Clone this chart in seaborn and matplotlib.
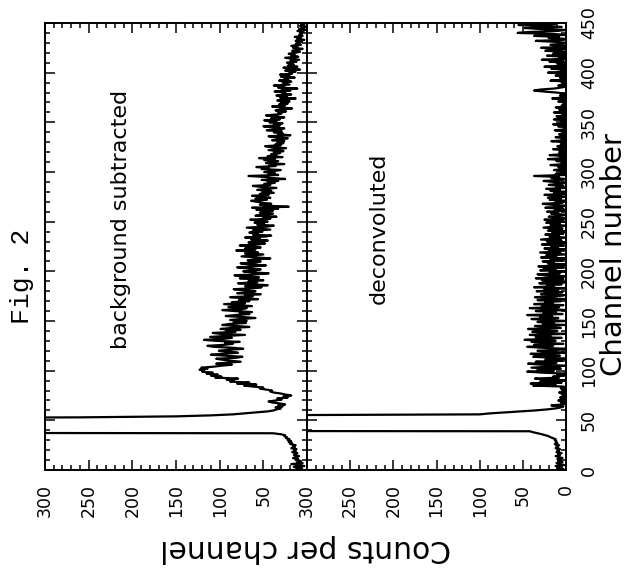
import matplotlib
matplotlib.use("Agg")
import matplotlib.pyplot as plt
import seaborn as sns
import pandas as pd
from matplotlib.ticker import MultipleLocator, FixedLocator

# ---------------- data ----------------
channels = list(range(450))

bg_subtracted = [
    4, 12, 6, 15, 3, 9, 18, 5, 11, 7,
    13, 10, 16, 12, 9, 15, 14, 11, 17, 13,
    15, 12, 18, 14, 16, 13, 19, 17, 21, 18,
    22, 20, 24, 23, 26, 25, 30, 39, 1200, 2400,
    3000, 3300, 3400, 3350, 3200, 3000, 2700, 2300, 1900, 1500,
    1100, 800, 600, 260, 150, 110, 85, 72, 58, 45,
    38, 35, 30, 36, 28, 33, 25, 31, 40, 44,
    36, 29, 34, 22, 27, 18, 25, 30, 38, 42,
    40, 47, 54, 50, 62, 72, 58, 80, 66, 88,
    84, 92, 79, 105, 98, 110, 102, 115, 108, 120,
    118, 123, 114, 121, 107, 98, 86, 104, 92, 76,
    86, 97, 104, 81, 74, 93, 110, 98, 79, 88,
    101, 90, 73, 84, 107, 114, 95, 85, 94, 77,
    104, 118, 96, 86, 111, 92, 71, 99, 108, 82,
    93, 76, 99, 86, 66, 81, 97, 89, 70, 84,
    69, 88, 76, 59, 74, 93, 82, 66, 77, 63,
    83, 97, 74, 69, 90, 63, 79, 95, 71, 86,
    66, 78, 56, 73, 88, 62, 71, 53, 80, 65,
    59, 74, 84, 61, 52, 71, 45, 64, 79, 57,
    67, 50, 61, 77, 55, 70, 83, 57, 44, 63,
    73, 59, 53, 69, 80, 61, 47, 66, 76, 58,
    53, 68, 61, 42, 57, 75, 63, 50, 71, 56,
    66, 81, 59, 71, 53, 62, 77, 57, 48, 67,
    59, 45, 64, 54, 71, 48, 41, 62, 56, 66,
    51, 62, 42, 55, 69, 46, 38, 57, 49, 60,
    45, 56, 65, 42, 50, 35, 59, 48, 39, 54,
    47, 39, 58, 33, 63, 21, 44, 54, 41, 51,
    57, 64, 46, 59, 42, 51, 63, 44, 54, 38,
    51, 41, 57, 46, 35, 53, 62, 42, 49, 37,
    45, 33, 52, 25, 41, 48, 67, 33, 44, 37,
    49, 38, 30, 52, 44, 58, 36, 43, 26, 47,
    42, 33, 49, 37, 55, 28, 45, 35, 41, 31,
    38, 27, 44, 34, 24, 41, 48, 30, 36, 27,
    34, 26, 40, 30, 22, 37, 44, 19, 33, 28,
    38, 29, 46, 34, 26, 41, 50, 31, 38, 28,
    43, 35, 49, 31, 41, 26, 38, 47, 33, 29,
    33, 24, 36, 28, 17, 31, 40, 25, 32, 22,
    30, 20, 34, 26, 13, 31, 23, 35, 18, 28,
    25, 37, 19, 29, 11, 33, 26, 38, 20, 24,
    28, 18, 32, 22, 26, 14, 30, 20, 31, 17,
    20, 13, 25, 8, 19, 27, 11, 22, 15, 18,
    23, 12, 19, 9, 17, 25, 10, 18, 14, 21,
    14, 8, 17, 10, 5, 16, 11, 18, 7, 13,
    10, 6, 13, 3, 11, 7, 14, 5, 9, 6,
    8, 4, 11, 2, 9, 5, 1, 8, 3, 7,
]

deconvoluted = [
    8, 3, 10, 5, 12, 2, 7, 11, 4, 9,
    6, 10, 4, 8, 12, 7, 9, 5, 11, 8,
    10, 7, 12, 9, 11, 8, 13, 10, 12, 11,
    13, 12, 15, 18, 20, 24, 28, 33, 38, 42,
    1500, 2800, 3400, 3700, 3800, 3750, 3600, 3400, 3100, 2700,
    2300, 1900, 1500, 1100, 700, 400, 100, 88, 70, 52,
    35, 22, 12, 6, 3, 17, 4, 0, 6, 2,
    9, 0, 3, 7, 1, 0, 5, 2, 8, 0,
    4, 1, 6, 0, 3, 38, 12, 41, 5, 30,
    0, 22, 36, 8, 15, 2, 10, 0, 27, 45,
    14, 33, 6, 40, 19, 0, 28, 44, 11, 35,
    4, 24, 0, 17, 38, 7, 30, 41, 2, 20,
    33, 9, 0, 26, 45, 15, 37, 3, 22, 40,
    12, 48, 28, 5, 35, 18, 42, 0, 25, 39,
    10, 31, 44, 6, 20, 36, 2, 27, 14, 33,
    0, 23, 40, 9, 30, 16, 45, 4, 26, 12,
    35, 0, 19, 42, 8, 28, 3, 37, 15, 24,
    6, 33, 0, 21, 36, 11, 2, 29, 18, 4,
    34, 9, 25, 0, 37, 14, 22, 5, 31, 0,
    17, 28, 3, 35, 10, 0, 24, 33, 7, 19,
    0, 30, 12, 26, 2, 32, 8, 0, 21, 14,
    27, 4, 18, 0, 29, 11, 23, 1, 15, 30,
    6, 20, 0, 25, 9, 17, 2, 28, 12, 0,
    22, 5, 29, 14, 0, 19, 8, 24, 3, 16,
    0, 21, 10, 4, 26, 13, 0, 18, 7, 23,
    2, 15, 25, 0, 11, 20, 5, 0, 17, 9,
    22, 0, 13, 3, 24, 8, 0, 16, 27, 4,
    12, 0, 19, 6, 21, 0, 10, 25, 2, 14,
    0, 18, 7, 23, 0, 11, 3, 20, 9, 0,
    15, 26, 4, 0, 17, 8, 37, 2, 12, 0,
    6, 0, 14, 3, 0, 9, 1, 18, 0, 5,
    0, 11, 2, 21, 0, 7, 0, 19, 3, 0,
    8, 0, 4, 15, 0, 2, 10, 0, 6, 0,
    3, 17, 0, 5, 0, 12, 1, 0, 8, 0,
    0, 4, 13, 0, 2, 0, 9, 0, 15, 1,
    0, 6, 0, 14, 3, 0, 11, 0, 4, 0,
    14, 0, 2, 8, 0, 12, 0, 5, 0, 3,
    0, 9, 1, 0, 16, 4, 0, 7, 0, 2,
    11, 26, 37, 30, 14, 6, 0, 9, 2, 0,
    5, 0, 18, 1, 0, 7, 0, 12, 3, 0,
    21, 0, 6, 2, 17, 0, 25, 4, 0, 10,
    0, 19, 3, 28, 0, 8, 1, 22, 0, 15,
    4, 0, 24, 9, 0, 29, 2, 0, 18, 6,
    0, 12, 35, 3, 0, 20, 8, 37, 1, 15,
    56, 42, 10, 0, 30, 48, 5, 24, 55, 12,
]

count_ticks_left = [300, 250, 200, 150, 100, 50]
count_ticks_right = [300, 250, 200, 150, 100, 50, 0]
channel_ticks = [0, 50, 100, 150, 200, 250, 300, 350, 400, 450]

panel_labels = ["background subtracted", "deconvoluted"]
channel_label = "Channel number"
counts_label = "Counts per channel"
fig_title = "Fig. 2"

# ---------------- figure ----------------
sns.set_theme(style="white")
plt.rcParams["font.family"] = ["DejaVu Sans"]
plt.rcParams["text.color"] = "black"
plt.rcParams["xtick.color"] = "black"
plt.rcParams["ytick.color"] = "black"
plt.rcParams["xtick.labelcolor"] = "black"
plt.rcParams["ytick.labelcolor"] = "black"

W, H = 635, 585
fig = plt.figure(figsize=(W / 100, H / 100), dpi=100)

x_left, x_mid, x_right = 45, 307, 566
y_top, y_bot = 23, 470
ax1 = fig.add_axes([x_left / W, 1 - y_bot / H, (x_mid - x_left) / W, (y_bot - y_top) / H])
ax2 = fig.add_axes([x_mid / W, 1 - y_bot / H, (x_right - x_mid) / W, (y_bot - y_top) / H])

df1 = pd.DataFrame({"channel": channels, "counts": bg_subtracted})
df2 = pd.DataFrame({"channel": channels, "counts": deconvoluted})

for ax, df in ((ax1, df1), (ax2, df2)):
    sns.lineplot(data=df, x="counts", y="channel", orient="y", sort=False,
                 estimator=None, color="black", linewidth=1.6, ax=ax)
    ax.set_xlim(300, 0)
    ax.set_ylim(0, 450)
    ax.set_xlabel("")
    ax.set_ylabel("")
    for s in ax.spines.values():
        s.set_visible(True)
        s.set_color("black")
        s.set_linewidth(1.4)
    ax.xaxis.set_minor_locator(MultipleLocator(10))
    ax.yaxis.set_minor_locator(MultipleLocator(10))
    ax.yaxis.set_major_locator(FixedLocator(channel_ticks))
    ax.tick_params(which="both", direction="in", top=True, bottom=True,
                   left=True, right=True, color="black", width=1.1)
    ax.tick_params(which="major", length=7)
    ax.tick_params(which="minor", length=3.5)

ax1.xaxis.set_major_locator(FixedLocator(count_ticks_left))
ax2.xaxis.set_major_locator(FixedLocator(count_ticks_right))
for ax in (ax1, ax2):
    ax.tick_params(axis="x", which="major", labelbottom=True, labelsize=12.5,
                   labelrotation=90, pad=10, labelcolor="black")
    ax.tick_params(axis="y", labelleft=False, labelright=False)
ax2.tick_params(axis="y", labelright=True, labelsize=12.5, pad=10, labelcolor="black")
for lab in ax2.get_yticklabels():
    lab.set_rotation(90)
    lab.set_va("center")
    lab.set_ha("left")

# texts
fig.text(121 / W, 1 - 219 / H, panel_labels[0], rotation=90, ha="center", va="center",
         fontsize=16, color="black")
fig.text(379 / W, 1 - 228 / H, panel_labels[1], rotation=90, ha="center", va="center",
         fontsize=16, color="black")
fig.text(614 / W, 1 - 255 / H, channel_label, rotation=90, ha="center", va="center",
         fontsize=21, color="black")
fig.text(306 / W, 1 - 549 / H, counts_label, rotation=180, ha="center", va="center",
         fontsize=21.5, color="black")
fig.text(22 / W, 1 - 276 / H, fig_title, rotation=90, ha="center", va="center",
         fontsize=19, color="black", family=["Liberation Mono", "DejaVu Sans Mono"])

fig.savefig("out.png", dpi=100, facecolor="white")
